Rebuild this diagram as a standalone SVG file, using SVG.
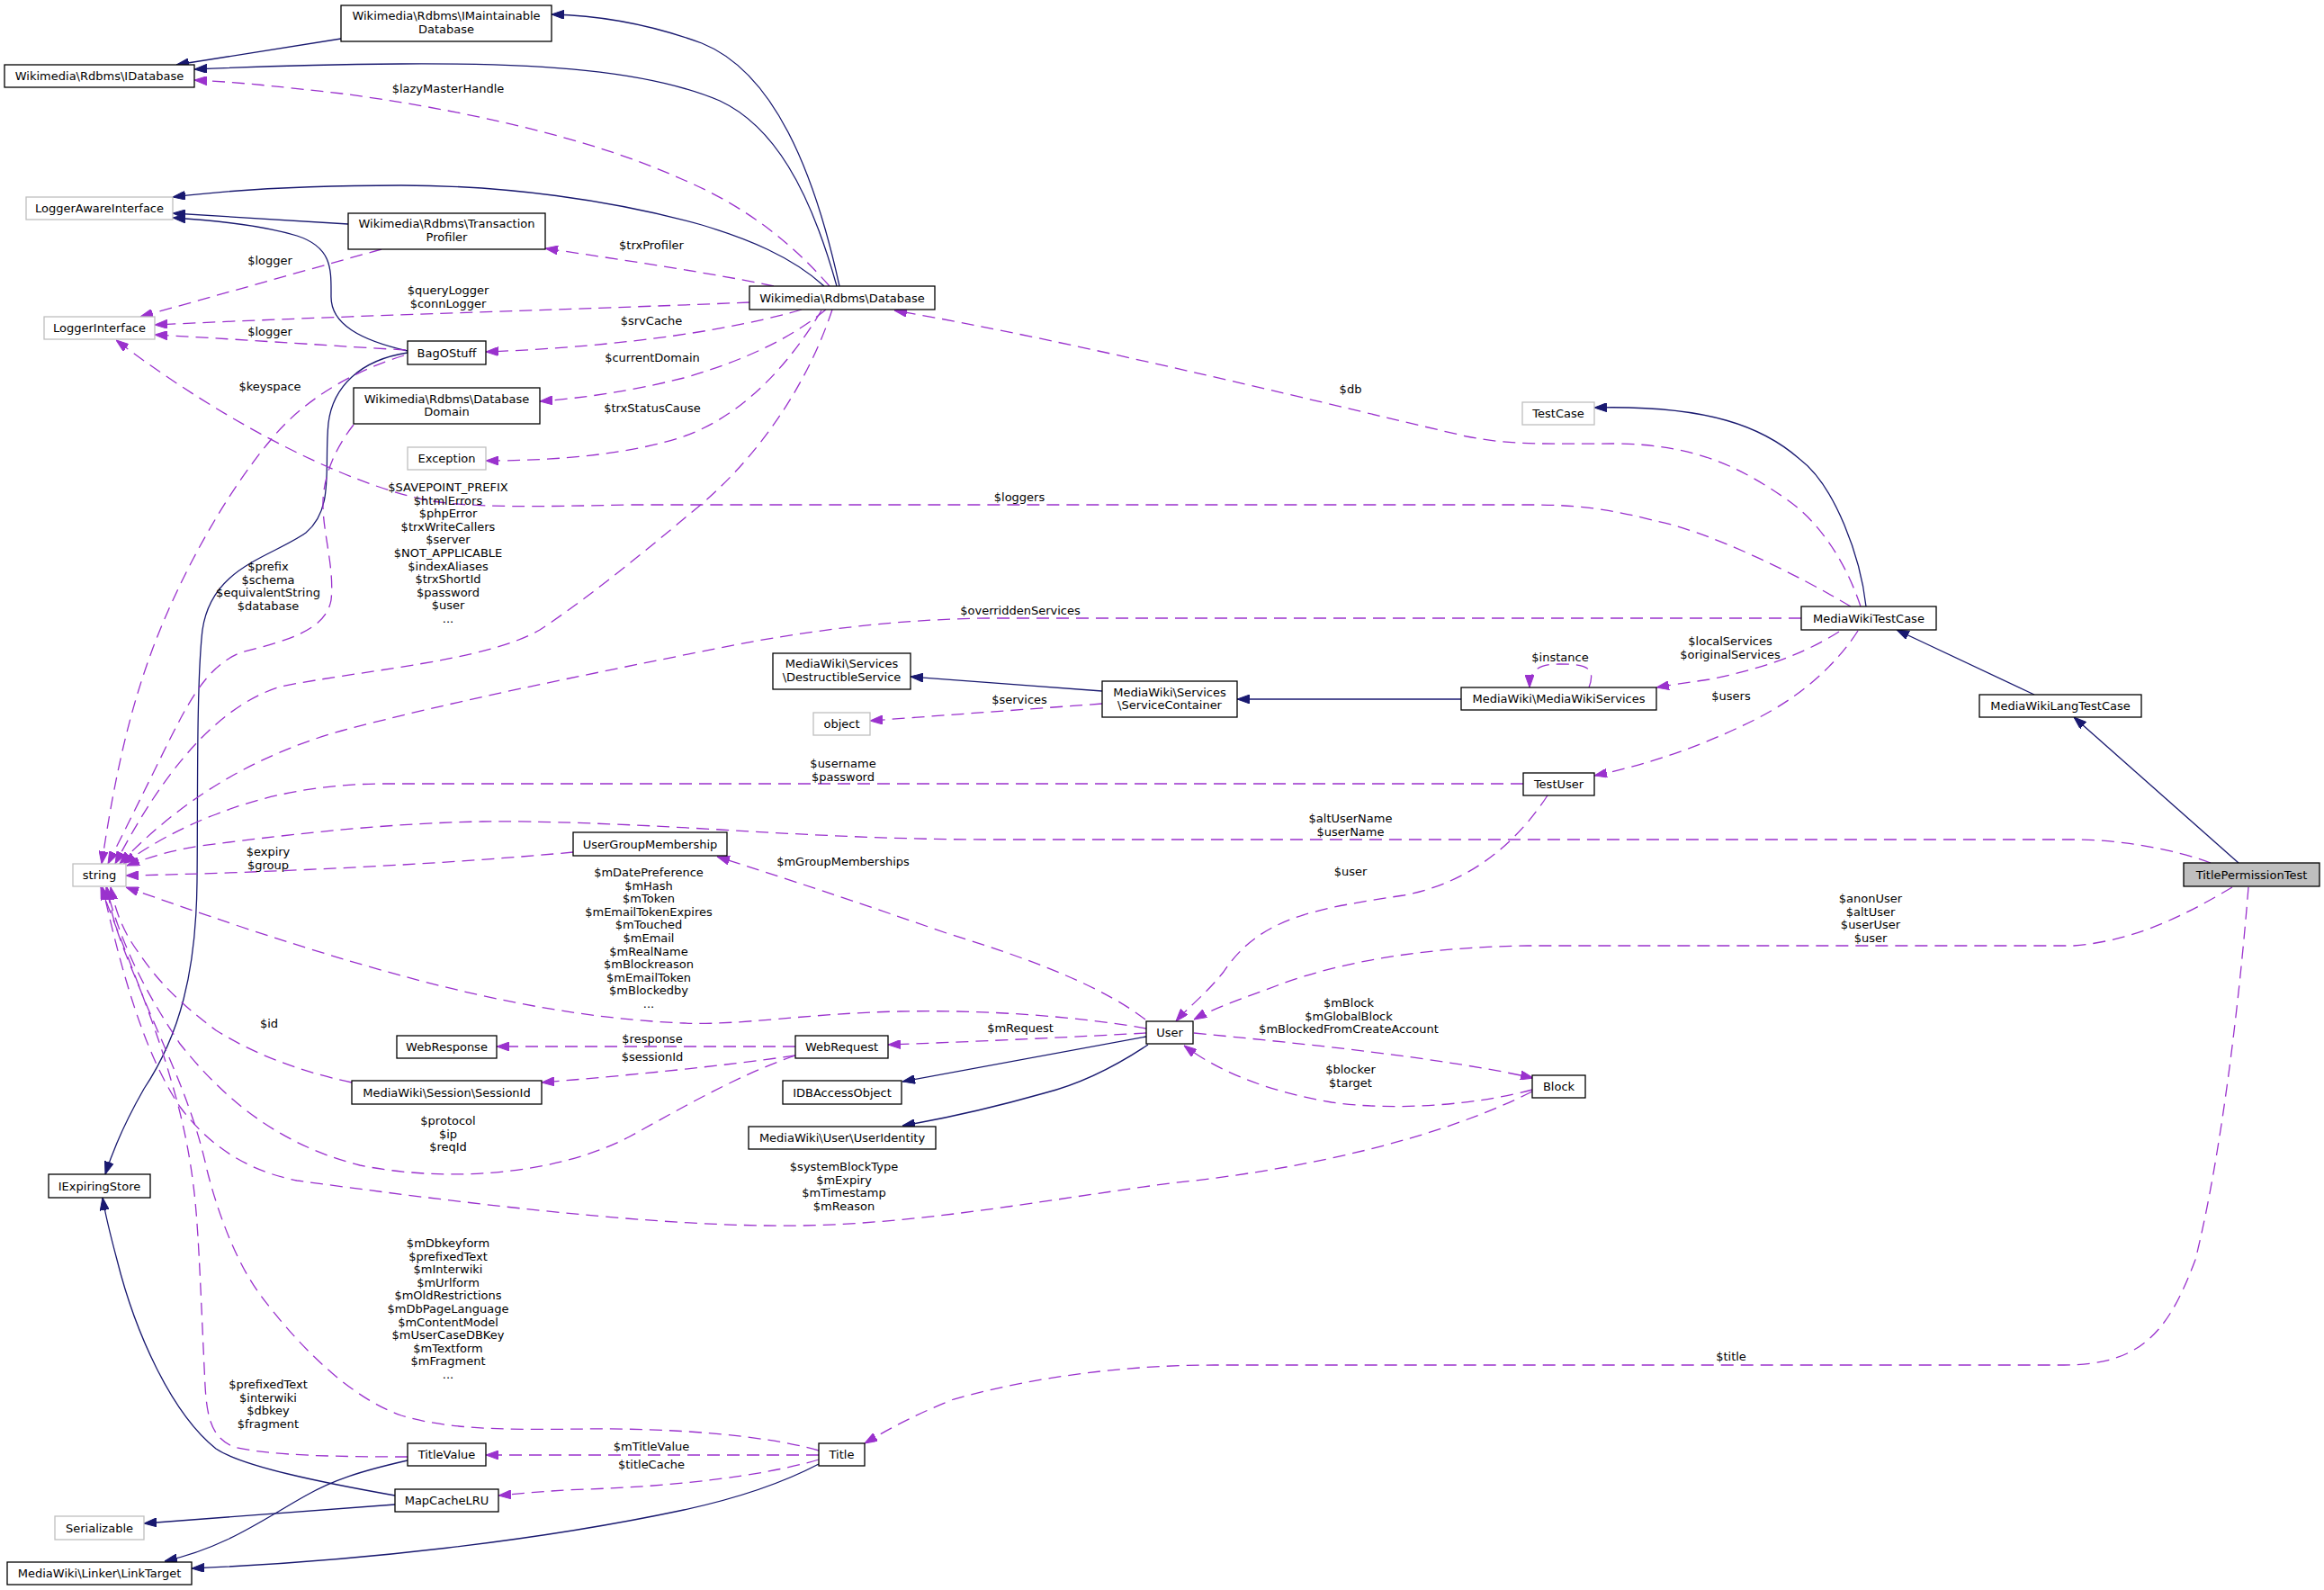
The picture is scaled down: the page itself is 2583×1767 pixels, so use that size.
<svg xmlns="http://www.w3.org/2000/svg" width="2583" height="1767" viewBox="0 0 2583 1767">
<style>
text{font-family:"DejaVu Sans","Liberation Sans",sans-serif;font-size:13px;fill:#000;text-anchor:middle}
.n rect{fill:#fff;stroke:#000;stroke-width:1.3}
.g rect{fill:#fff;stroke:#bfbfbf;stroke-width:1.3}
.cur rect{fill:#bfbfbf;stroke:#000;stroke-width:1.3}
.inh{fill:none;stroke:#191970;stroke-width:1.3;marker-end:url(#ai)}
.use{fill:none;stroke:#9a32cd;stroke-width:1.3;stroke-dasharray:14,8;marker-end:url(#au)}
</style>
<defs>
<marker id="ai" viewBox="0 0 14 10" refX="14" refY="5" markerWidth="14" markerHeight="10" markerUnits="userSpaceOnUse" orient="auto"><path d="M0,0 L14,5 L0,10 z" fill="#191970" stroke="#191970"/></marker>
<marker id="au" viewBox="0 0 14 10" refX="14" refY="5" markerWidth="14" markerHeight="10" markerUnits="userSpaceOnUse" orient="auto"><path d="M0,0 L14,5 L0,10 z" fill="#9a32cd" stroke="#9a32cd"/></marker>
</defs>
<rect width="2583" height="1767" fill="#fff"/>
<g id="connectors">
<path class="inh" d="M933,318 C905,190 860,80 780,48 C720,26 660,17 613,16"/>
<path class="inh" d="M930,318 C900,210 860,140 800,112 C720,78 600,70 446,71 C330,72 260,75 216,77"/>
<path class="inh" d="M379,43 L196,72"/>
<path class="inh" d="M916,318 C880,285 830,265 780,250 C680,222 560,206 446,206 C320,206 240,213 192,219"/>
<path class="inh" d="M387,249 L192,237"/>
<path class="inh" d="M453,390 C400,378 368,360 368,330 C368,300 370,275 330,262 C290,250 240,245 192,242"/>
<path class="inh" d="M453,392 C400,400 370,430 365,470 C360,520 372,565 340,592 C300,620 235,630 225,700 C218,760 220,900 219,980 C218,1080 200,1150 160,1210 C140,1245 125,1280 117,1305"/>
<path class="inh" d="M2074,674 C2068,620 2040,540 2000,510 C1960,475 1900,450 1772,453"/>
<path class="inh" d="M2261,772 L2108,700"/>
<path class="inh" d="M2488,959 L2305,797"/>
<path class="inh" d="M1225,768 L1012,752"/>
<path class="inh" d="M1624,777 L1375,777"/>
<path class="inh" d="M1274,1152 L1003,1202"/>
<path class="inh" d="M1276,1161 C1240,1185 1200,1205 1160,1215 C1100,1232 1050,1243 1003,1251"/>
<path class="inh" d="M439,1662 C360,1648 270,1630 240,1610 C190,1570 150,1480 130,1400 C122,1370 117,1350 114,1331"/>
<path class="inh" d="M439,1672 L160,1693"/>
<path class="inh" d="M453,1623 C400,1635 370,1645 340,1662 C290,1690 250,1720 183,1735"/>
<path class="inh" d="M910,1627 C870,1648 820,1665 760,1678 C600,1712 400,1735 213,1743"/>

<path class="use" d="M922,318 C880,270 830,230 760,200 C650,150 500,120 380,104 C300,95 260,91 216,89"/>
<path class="use" d="M860,318 C800,305 700,290 606,276"/>
<path class="use" d="M833,336 C700,342 400,350 172,361"/>
<path class="use" d="M891,344 C820,365 700,385 540,391"/>
<path class="use" d="M918,344 C880,375 830,400 760,420 C700,435 650,442 600,446"/>
<path class="use" d="M913,345 C880,400 830,460 760,485 C700,505 620,512 540,512"/>
<path class="use" d="M925,344 C900,420 850,500 780,560 C720,610 660,660 600,700 C540,735 400,745 312,763 C240,785 180,860 128,960"/>
<path class="use" d="M424,277 L156,352"/>
<path class="use" d="M451,389 C380,385 280,378 172,372"/>
<path class="use" d="M449,395 C400,410 340,440 300,490 C250,550 200,640 170,720 C140,800 125,880 113,960"/>
<path class="use" d="M393,472 C375,495 360,525 359,557 C358,590 372,630 368,667 C362,700 320,712 268,725 C230,740 210,780 188,823 C165,870 140,920 120,960"/>
<path class="use" d="M2068,674 C2050,620 2020,580 1990,558 C1930,515 1880,495 1800,493 C1720,493 1680,495 1630,485 C1500,455 1200,380 994,345"/>
<path class="use" d="M2057,674 C2000,640 1900,590 1836,578 C1780,563 1740,561 1700,561 L700,561 C600,563 520,565 470,555 C380,535 250,470 129,378"/>
<path class="use" d="M2002,687 L1100,687 C1000,688 900,700 800,720 C650,750 500,780 380,812 C280,840 200,890 133,960"/>
<path class="use" d="M2044,702 C2000,730 1950,745 1900,755 C1880,758 1865,760 1841,764"/>
<path class="use" d="M2065,701 C2040,740 2000,775 1950,800 C1890,830 1830,850 1772,862"/>
<path class="use" d="M1766,764 C1775,740 1760,738 1733,738 C1710,738 1700,745 1700,764"/>
<path class="use" d="M1225,782 L967,801"/>
<path class="use" d="M1693,871 L420,871 C350,872 290,885 240,905 C200,920 165,940 137,960"/>
<path class="use" d="M2457,959 C2420,945 2360,933 2305,933 L1100,933 C1000,933 900,928 800,922 C700,916 600,912 536,913 C420,915 300,930 223,940 C190,945 165,953 141,962"/>
<path class="use" d="M637,947 C500,960 300,970 140,973"/>
<path class="use" d="M1720,884 C1690,930 1640,980 1560,995 C1460,1010 1400,1020 1360,1080 C1340,1105 1320,1120 1307,1135"/>
<path class="use" d="M2481,986 C2440,1010 2380,1045 2305,1051 L1700,1051 C1600,1052 1500,1065 1420,1095 C1380,1110 1350,1120 1327,1133"/>
<path class="use" d="M1273,1133 C1230,1100 1160,1070 1052,1037 C960,1005 870,975 797,952"/>
<path class="use" d="M1274,1143 C1200,1130 1100,1122 1000,1124 C900,1126 820,1140 760,1137 C600,1130 450,1090 268,1030 C220,1014 180,1000 140,986"/>
<path class="use" d="M1274,1148 C1200,1152 1100,1157 987,1161"/>
<path class="use" d="M1327,1148 C1450,1160 1600,1175 1704,1198"/>
<path class="use" d="M1703,1211 C1640,1228 1550,1235 1480,1225 C1420,1215 1360,1195 1316,1162"/>
<path class="use" d="M884,1163 L552,1163"/>
<path class="use" d="M884,1173 C800,1185 700,1195 602,1203"/>
<path class="use" d="M391,1203 C330,1190 280,1170 240,1145 C200,1115 175,1090 155,1060 C140,1040 130,1020 123,986"/>
<path class="use" d="M884,1173 C820,1195 760,1230 700,1263 C620,1305 500,1315 400,1295 C300,1270 240,1210 200,1160 C160,1100 135,1050 118,986"/>
<path class="use" d="M1703,1213 C1600,1265 1450,1300 1300,1315 C1150,1335 1000,1365 850,1362 C700,1360 500,1335 330,1312 C270,1300 230,1270 200,1230 C160,1170 135,1080 114,986"/>
<path class="use" d="M910,1612 C850,1595 750,1587 650,1588 C580,1589 500,1590 446,1573 C380,1550 320,1480 290,1440 C260,1400 240,1340 230,1300 C215,1230 185,1170 160,1110 C140,1060 125,1030 119,986"/>
<path class="use" d="M453,1619 C380,1619 300,1618 260,1608 C235,1598 230,1575 228,1540 C225,1480 222,1400 219,1360 C215,1300 205,1250 190,1200 C170,1130 140,1060 112,986"/>
<path class="use" d="M910,1617 L540,1617"/>
<path class="use" d="M910,1622 C850,1640 750,1652 650,1655 C600,1657 580,1660 554,1662"/>
<path class="use" d="M2499,986 C2490,1100 2470,1280 2440,1400 C2410,1480 2380,1517 2294,1517 L1350,1517 C1250,1517 1150,1530 1060,1555 C1010,1575 985,1590 961,1604"/>

<text x="498" y="103">$lazyMasterHandle</text>
<text x="724" y="277">$trxProfiler</text>
<text x="300" y="294">$logger</text>
<text x="498" y="327">$queryLogger<tspan x="498" dy="15">$connLogger</tspan></text>
<text x="300" y="373">$logger</text>
<text x="724" y="361">$srvCache</text>
<text x="725" y="402">$currentDomain</text>
<text x="300" y="434">$keyspace</text>
<text x="1501" y="437">$db</text>
<text x="725" y="458">$trxStatusCause</text>
<text x="498" y="546">$SAVEPOINT_PREFIX<tspan x="498" dy="14.6">$htmlErrors</tspan><tspan x="498" dy="14.6">$phpError</tspan><tspan x="498" dy="14.6">$trxWriteCallers</tspan><tspan x="498" dy="14.6">$server</tspan><tspan x="498" dy="14.6">$NOT_APPLICABLE</tspan><tspan x="498" dy="14.6">$indexAliases</tspan><tspan x="498" dy="14.6">$trxShortId</tspan><tspan x="498" dy="14.6">$password</tspan><tspan x="498" dy="14.6">$user</tspan><tspan x="498" dy="14.6">...</tspan></text>
<text x="1133" y="557">$loggers</text>
<text x="298" y="634">$prefix<tspan x="298" dy="14.6">$schema</tspan><tspan x="298" dy="14.6">$equivalentString</tspan><tspan x="298" dy="14.6">$database</tspan></text>
<text x="1134" y="683">$overriddenServices</text>
<text x="1923" y="717">$localServices<tspan x="1923" dy="14.6">$originalServices</tspan></text>
<text x="1734" y="735">$instance</text>
<text x="1924" y="778">$users</text>
<text x="1133" y="782">$services</text>
<text x="937" y="853">$username<tspan x="937" dy="14.6">$password</tspan></text>
<text x="1501" y="914">$altUserName<tspan x="1501" dy="14.6">$userName</tspan></text>
<text x="298" y="951">$expiry<tspan x="298" dy="14.6">$group</tspan></text>
<text x="937" y="962">$mGroupMemberships</text>
<text x="1501" y="973">$user</text>
<text x="721" y="974">$mDatePreference<tspan x="721" dy="14.6">$mHash</tspan><tspan x="721" dy="14.6">$mToken</tspan><tspan x="721" dy="14.6">$mEmailTokenExpires</tspan><tspan x="721" dy="14.6">$mTouched</tspan><tspan x="721" dy="14.6">$mEmail</tspan><tspan x="721" dy="14.6">$mRealName</tspan><tspan x="721" dy="14.6">$mBlockreason</tspan><tspan x="721" dy="14.6">$mEmailToken</tspan><tspan x="721" dy="14.6">$mBlockedby</tspan><tspan x="721" dy="14.6">...</tspan></text>
<text x="2079" y="1003">$anonUser<tspan x="2079" dy="14.6">$altUser</tspan><tspan x="2079" dy="14.6">$userUser</tspan><tspan x="2079" dy="14.6">$user</tspan></text>
<text x="1499" y="1119">$mBlock<tspan x="1499" dy="14.6">$mGlobalBlock</tspan><tspan x="1499" dy="14.6">$mBlockedFromCreateAccount</tspan></text>
<text x="299" y="1142">$id</text>
<text x="1134" y="1147">$mRequest</text>
<text x="725" y="1159">$response</text>
<text x="725" y="1179">$sessionId</text>
<text x="1501" y="1193">$blocker<tspan x="1501" dy="14.6">$target</tspan></text>
<text x="498" y="1250">$protocol<tspan x="498" dy="14.6">$ip</tspan><tspan x="498" dy="14.6">$reqId</tspan></text>
<text x="938" y="1301">$systemBlockType<tspan x="938" dy="14.6">$mExpiry</tspan><tspan x="938" dy="14.6">$mTimestamp</tspan><tspan x="938" dy="14.6">$mReason</tspan></text>
<text x="498" y="1386">$mDbkeyform<tspan x="498" dy="14.6">$prefixedText</tspan><tspan x="498" dy="14.6">$mInterwiki</tspan><tspan x="498" dy="14.6">$mUrlform</tspan><tspan x="498" dy="14.6">$mOldRestrictions</tspan><tspan x="498" dy="14.6">$mDbPageLanguage</tspan><tspan x="498" dy="14.6">$mContentModel</tspan><tspan x="498" dy="14.6">$mUserCaseDBKey</tspan><tspan x="498" dy="14.6">$mTextform</tspan><tspan x="498" dy="14.6">$mFragment</tspan><tspan x="498" dy="14.6">...</tspan></text>
<text x="1924" y="1512">$title</text>
<text x="298" y="1543">$prefixedText<tspan x="298" dy="14.6">$interwiki</tspan><tspan x="298" dy="14.6">$dbkey</tspan><tspan x="298" dy="14.6">$fragment</tspan></text>
<text x="724" y="1612">$mTitleValue</text>
<text x="724" y="1632">$titleCache</text>
</g>

<g id="IMaintainableDatabase" class="n"><rect x="379" y="6" width="234" height="40"/><text x="496" y="21.5">Wikimedia\Rdbms\IMaintainable</text><text x="496" y="36.5">Database</text></g>
<g id="IDatabase" class="n"><rect x="5" y="72" width="211" height="25"/><text x="110.5" y="89">Wikimedia\Rdbms\IDatabase</text></g>
<g id="LoggerAwareInterface" class="g"><rect x="29" y="219" width="163" height="25"/><text x="110.5" y="236">LoggerAwareInterface</text></g>
<g id="TransactionProfiler" class="n"><rect x="387" y="237" width="219" height="40"/><text x="496.5" y="253">Wikimedia\Rdbms\Transaction</text><text x="496.5" y="267.5">Profiler</text></g>
<g id="LoggerInterface" class="g"><rect x="49" y="352" width="123" height="25"/><text x="110.5" y="369">LoggerInterface</text></g>
<g id="BagOStuff" class="n"><rect x="453" y="379" width="87" height="26"/><text x="496.5" y="396.5">BagOStuff</text></g>
<g id="DatabaseDomain" class="n"><rect x="393" y="431" width="207" height="40"/><text x="496.5" y="447.5">Wikimedia\Rdbms\Database</text><text x="496.5" y="462">Domain</text></g>
<g id="Database" class="n"><rect x="833" y="318" width="206" height="26"/><text x="936" y="335.5">Wikimedia\Rdbms\Database</text></g>
<g id="Exception" class="g"><rect x="453" y="497" width="87" height="25"/><text x="496.5" y="514">Exception</text></g>
<g id="TestCase" class="g"><rect x="1692" y="447" width="80" height="25"/><text x="1732" y="464">TestCase</text></g>
<g id="MediaWikiTestCase" class="n"><rect x="2002" y="674" width="150" height="26"/><text x="2077" y="691.5">MediaWikiTestCase</text></g>
<g id="MediaWikiLangTestCase" class="n"><rect x="2200" y="772" width="180" height="25"/><text x="2290" y="789">MediaWikiLangTestCase</text></g>
<g id="TitlePermissionTest" class="cur"><rect x="2427" y="959" width="151" height="26"/><text x="2502.5" y="976.5">TitlePermissionTest</text></g>
<g id="DestructibleService" class="n"><rect x="859" y="726" width="153" height="40"/><text x="935.5" y="741.5">MediaWiki\Services</text><text x="935.5" y="756.5">\DestructibleService</text></g>
<g id="ServiceContainer" class="n"><rect x="1225" y="757" width="150" height="40"/><text x="1300" y="773.5">MediaWiki\Services</text><text x="1300" y="788">\ServiceContainer</text></g>
<g id="object" class="g"><rect x="904" y="792" width="63" height="25"/><text x="935.5" y="809">object</text></g>
<g id="MediaWikiServices" class="n"><rect x="1624" y="764" width="217" height="25"/><text x="1732.5" y="781">MediaWiki\MediaWikiServices</text></g>
<g id="TestUser" class="n"><rect x="1693" y="859" width="79" height="25"/><text x="1732.5" y="876">TestUser</text></g>
<g id="string" class="g"><rect x="81" y="960" width="59" height="25"/><text x="110.5" y="977">string</text></g>
<g id="UserGroupMembership" class="n"><rect x="637" y="925" width="171" height="26"/><text x="722.5" y="942.5">UserGroupMembership</text></g>
<g id="User" class="n"><rect x="1274" y="1135" width="52" height="25"/><text x="1300" y="1152">User</text></g>
<g id="WebRequest" class="n"><rect x="884" y="1151" width="103" height="25"/><text x="935.5" y="1168">WebRequest</text></g>
<g id="WebResponse" class="n"><rect x="441" y="1151" width="111" height="25"/><text x="496.5" y="1168">WebResponse</text></g>
<g id="SessionId" class="n"><rect x="391" y="1201" width="211" height="26"/><text x="496.5" y="1218.5">MediaWiki\Session\SessionId</text></g>
<g id="IDBAccessObject" class="n"><rect x="870" y="1201" width="132" height="26"/><text x="936" y="1218.5">IDBAccessObject</text></g>
<g id="UserIdentity" class="n"><rect x="832" y="1252" width="208" height="25"/><text x="936" y="1269">MediaWiki\User\UserIdentity</text></g>
<g id="Block" class="n"><rect x="1703" y="1195" width="59" height="25"/><text x="1732.5" y="1212">Block</text></g>
<g id="IExpiringStore" class="n"><rect x="54" y="1305" width="113" height="26"/><text x="110.5" y="1322.5">IExpiringStore</text></g>
<g id="TitleValue" class="n"><rect x="453" y="1604" width="87" height="25"/><text x="496.5" y="1621">TitleValue</text></g>
<g id="Title" class="n"><rect x="910" y="1604" width="51" height="25"/><text x="935.5" y="1621">Title</text></g>
<g id="MapCacheLRU" class="n"><rect x="439" y="1655" width="115" height="25"/><text x="496.5" y="1672">MapCacheLRU</text></g>
<g id="Serializable" class="g"><rect x="61" y="1685" width="99" height="26"/><text x="110.5" y="1702.5">Serializable</text></g>
<g id="LinkTarget" class="n"><rect x="8" y="1736" width="205" height="25"/><text x="110.5" y="1753">MediaWiki\Linker\LinkTarget</text></g>
</svg>
